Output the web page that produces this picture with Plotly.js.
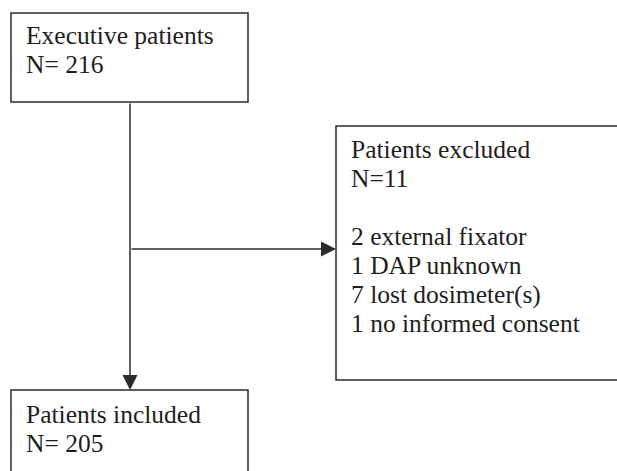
<!DOCTYPE html>
<html>
<head>
<meta charset="utf-8">
<script src="https://cdn.plot.ly/plotly-3.0.1.min.js"></script>
<style>html,body{margin:0;padding:0;background:#fff;}#chart{width:617px;height:471px;}</style>
</head>
<body>
<div id="chart"></div>
<script>
// Flowchart content
var boxNames = ["Executive patients", "Patients excluded", "Patients included"];
var boxLines = [
  ["Executive patients", "N= 216"],
  ["Patients excluded", "N=11", "", "2 external fixator", "1 DAP unknown", "7 lost dosimeter(s)", "1 no informed consent"],
  ["Patients included", "N= 205"]
];
// Box geometry (pixel-like coordinates on a 617 x 471 canvas)
var boxX0 = [11, 336, 11];
var boxX1 = [248, 640, 248];
var boxY0 = [13, 126, 390];
var boxY1 = [102, 380, 495];
var textX = [24, 349, 24];
var firstBaseline = [43.5, 157, 422];
var lineStep = 29;

var shapes = [];
var annotations = [];
var lineColor = "#2b2b2b";
for (var i = 0; i < boxX0.length; i++) {
  shapes.push({type: "rect", xref: "x", yref: "y", x0: boxX0[i], x1: boxX1[i], y0: boxY0[i], y1: boxY1[i],
    line: {color: lineColor, width: 1.5}, fillcolor: "rgba(0,0,0,0)"});
  for (var j = 0; j < boxLines[i].length; j++) {
    if (!boxLines[i][j]) continue;
    annotations.push({xref: "x", yref: "y", x: textX[i], y: firstBaseline[i] + j * lineStep - 8,
      text: boxLines[i][j], showarrow: false, xanchor: "left", yanchor: "middle", align: "left",
      font: {family: "Liberation Serif, Times New Roman, serif", size: 25.5, color: "#1e1e1e"}});
  }
}
// vertical trunk connector
var trunkX = 130;
annotations.push({xref: "x", yref: "y", axref: "x", ayref: "y", x: trunkX, y: boxY0[2], ax: trunkX, ay: boxY1[0],
  showarrow: true, arrowhead: 2, arrowsize: 2, arrowwidth: 1.5, arrowcolor: lineColor, standoff: 0, startstandoff: 0, text: ""});
// branch to excluded box
var branchY = 249;
annotations.push({xref: "x", yref: "y", axref: "x", ayref: "y", x: boxX0[1], y: branchY, ax: trunkX, ay: branchY,
  showarrow: true, arrowhead: 2, arrowsize: 2, arrowwidth: 1.5, arrowcolor: lineColor, standoff: 0, startstandoff: 0, text: ""});

var layout = {
  width: 617, height: 471,
  margin: {l: 0, r: 0, t: 0, b: 0},
  paper_bgcolor: "#ffffff", plot_bgcolor: "#ffffff",
  xaxis: {range: [0, 617], visible: false, fixedrange: true},
  yaxis: {range: [471, 0], visible: false, fixedrange: true},
  shapes: shapes,
  annotations: annotations,
  showlegend: false
};
Plotly.newPlot("chart", [], layout, {displayModeBar: false, staticPlot: true});
</script>
</body>
</html>
